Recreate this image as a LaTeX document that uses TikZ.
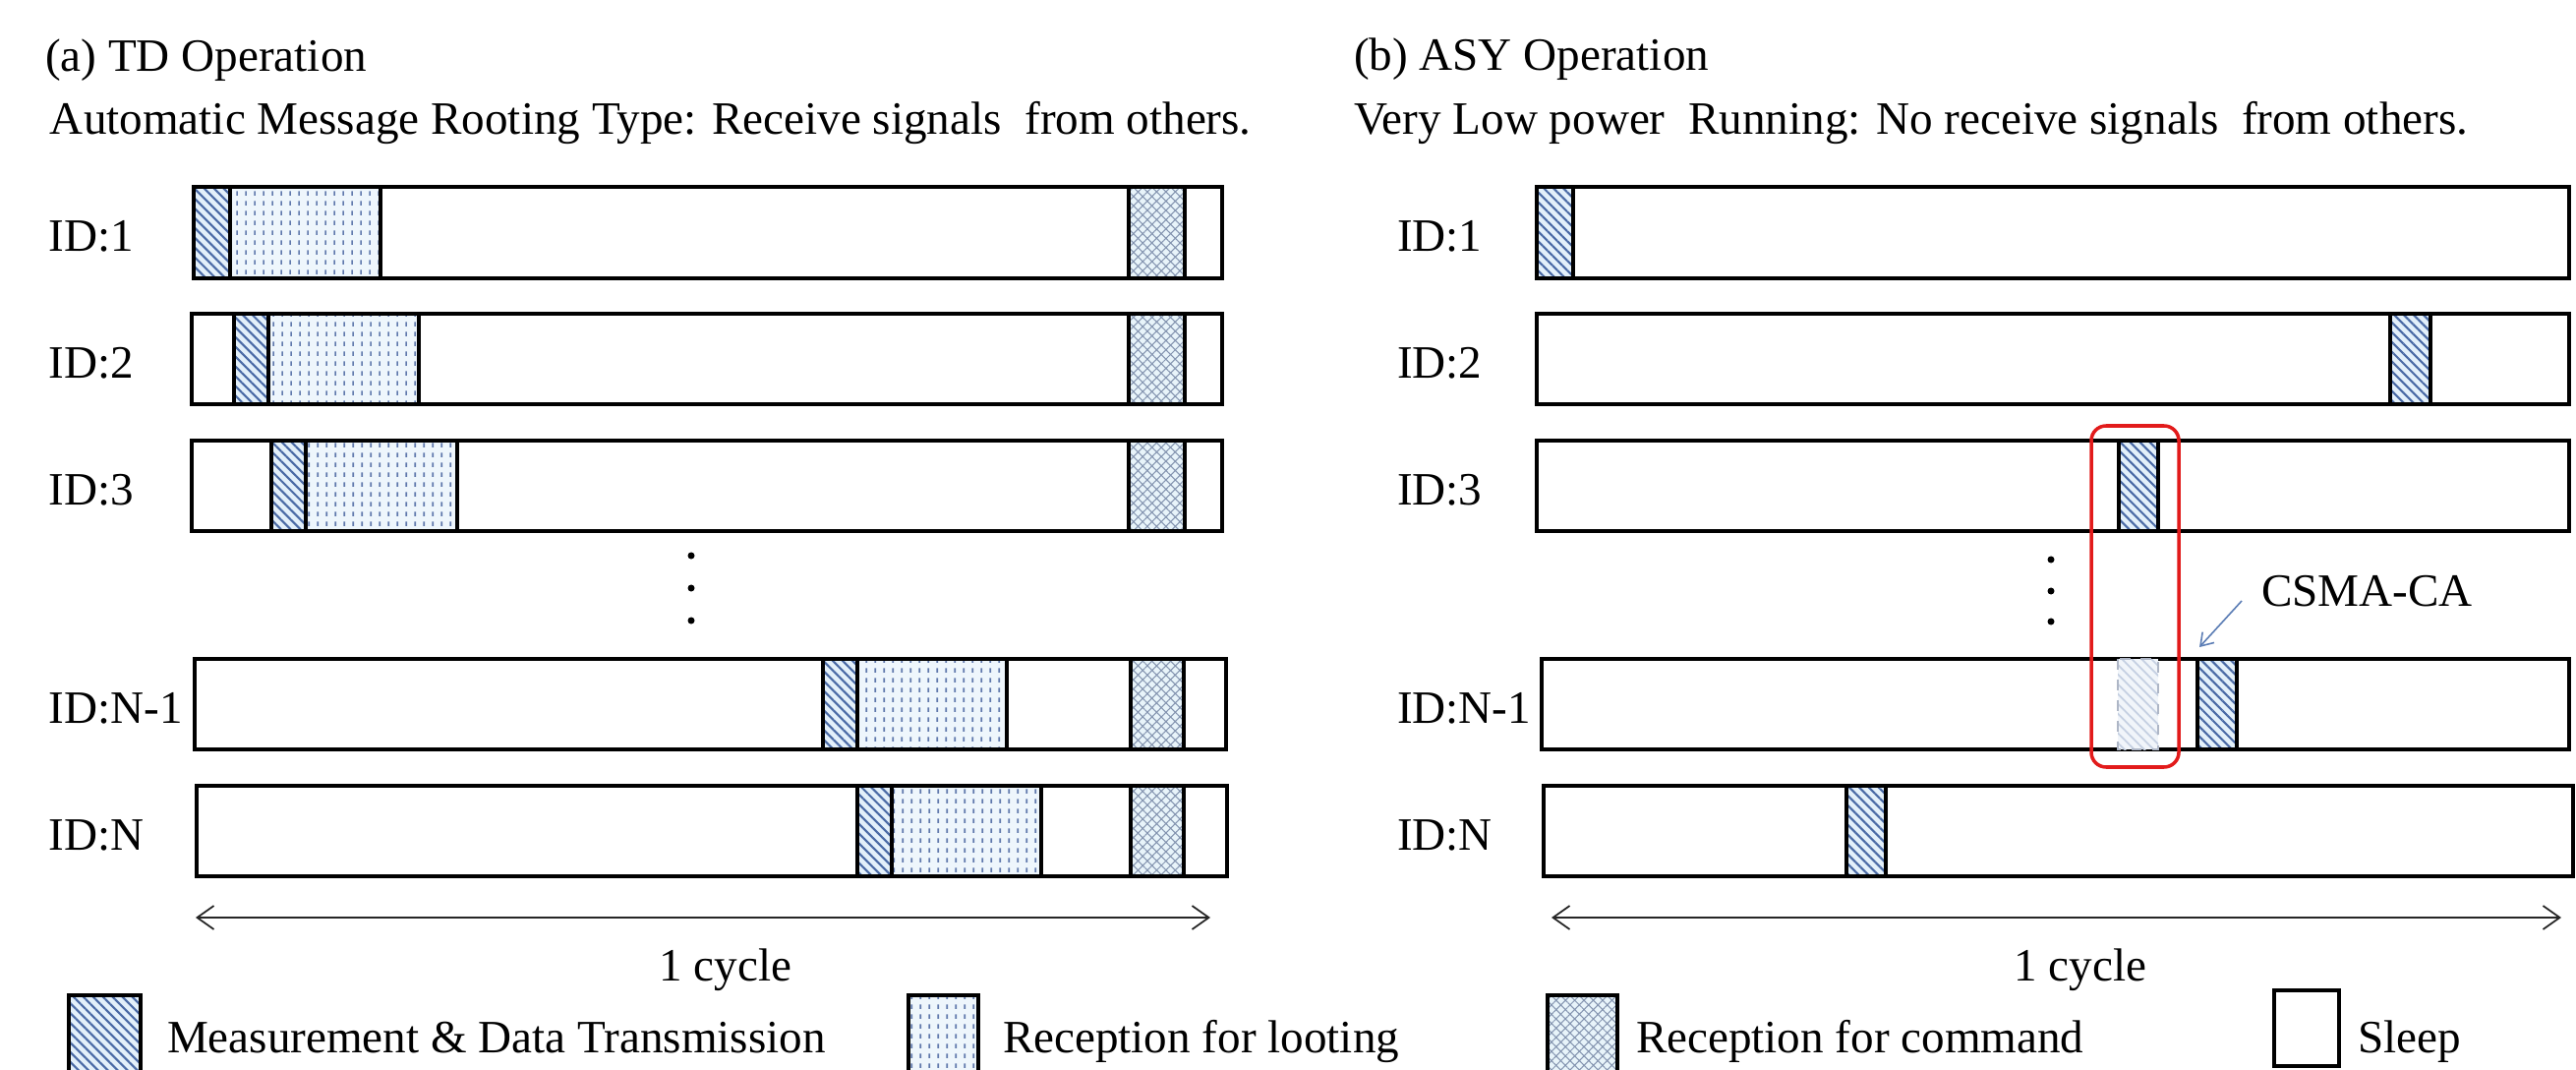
\documentclass[tikz,border=0pt]{standalone}
\usepackage{fontspec}
\setmainfont{Liberation Serif}
\usetikzlibrary{patterns.meta,arrows.meta}

\pgfdeclarepattern{
  name=VDash,
  type=uncolored,
  bottom left={\pgfpoint{0pt}{0pt}},
  top right={\pgfpoint{2.6pt}{2.7pt}},
  tile size={\pgfpoint{2.6pt}{2.7pt}},
  code={
    \pgfsetlinewidth{0.5pt}
    \pgfpathmoveto{\pgfpoint{1.3pt}{0.6pt}}
    \pgfpathlineto{\pgfpoint{1.3pt}{2.0pt}}
    \pgfusepath{stroke}
  }
}

\definecolor{hblue}{HTML}{4A6AA5}
\definecolor{hbg}{HTML}{E3F0FA}
\definecolor{dblue}{HTML}{5F78AC}
\definecolor{dbg}{HTML}{EEF6FC}
\definecolor{cgray}{HTML}{8494B0}
\definecolor{cbg}{HTML}{E8F4FA}
\definecolor{fadeline}{HTML}{C5D0E2}
\definecolor{fadebg}{HTML}{F1F5FA}
\definecolor{fadeedge}{HTML}{AEB6C6}
\definecolor{redbox}{HTML}{E21B1B}
\definecolor{arrblue}{HTML}{5B7DB5}

\begin{document}
\begin{tikzpicture}[x=0.01cm,y=-0.01cm,
  every node/.style={font=\fontsize{13.4pt}{16pt}\selectfont, inner sep=0pt, outer sep=0pt},
  bar/.style={draw=black, line width=1pt, fill=white},
  meas/.style={draw=black, line width=1pt, preaction={fill=hbg}, pattern={Lines[angle=-45,distance=2pt,line width=0.6pt]}, pattern color=hblue},
  loot/.style={draw=black, line width=1pt, preaction={fill=dbg}, pattern=VDash, pattern color=dblue},
  cmd/.style={draw=black, line width=1pt, preaction={fill=cbg}, pattern={Hatch[angle=45,distance=1.9pt,line width=0.3pt]}, pattern color=cgray},
  ghost/.style={draw=fadeedge, dashed, line width=0.6pt, preaction={fill=fadebg}, pattern={Lines[angle=-45,distance=2pt,line width=0.5pt]}, pattern color=fadeline},
  cyc/.style={draw=black!85, line width=0.5pt, {Straight Barb[length=0.17cm,width=0.24cm]}-{Straight Barb[length=0.17cm,width=0.24cm]}},
  lbl/.style={anchor=west},
  head/.style={anchor=base west},
]
\useasboundingbox (0,0) rectangle (2620,1088);
\clip (0,0) rectangle (2620,1088);
\fill[white] (0,0) rectangle (2620,1088);

% headings
\node[head] (ta) at (46,73) {(a) TD Operation};
\node[head] (tasub) at (51,137) {Automatic Message Rooting Type: Receive signals\ \ from others.};
\node[head] (tb) at (1377,72) {(b) ASY Operation};
\node[head] (tbsub) at (1377,137) {Very Low power\ \ Running: No receive signals\ \ from others.};

% ---------- panel (a) ----------
\node[lbl] (a1) at (50,240) {ID:1};
\node[lbl] (a2) at (50,369) {ID:2};
\node[lbl] (a3) at (50,498) {ID:3};
\node[lbl] (an1) at (50,720) {ID:N-1};
\node[lbl] (an) at (50,849) {ID:N};

\draw[bar] (197,190) rectangle (1243,283);
\draw[meas] (197,190) rectangle (234,283);
\draw[loot] (234,190) rectangle (387,283);
\draw[cmd] (1148,190) rectangle (1205,283);

\draw[bar] (195,319) rectangle (1243,411);
\draw[meas] (238,319) rectangle (273,411);
\draw[loot] (273,319) rectangle (426,411);
\draw[cmd] (1148,319) rectangle (1205,411);

\draw[bar] (195,448) rectangle (1243,540);
\draw[meas] (276,448) rectangle (311,540);
\draw[loot] (311,448) rectangle (465,540);
\draw[cmd] (1148,448) rectangle (1205,540);

\draw[bar] (198,670) rectangle (1247,762);
\draw[meas] (837,670) rectangle (872,762);
\draw[loot] (872,670) rectangle (1024,762);
\draw[cmd] (1150,670) rectangle (1204,762);

\draw[bar] (200,799) rectangle (1248,891);
\draw[meas] (872,799) rectangle (907,891);
\draw[loot] (907,799) rectangle (1059,891);
\draw[cmd] (1150,799) rectangle (1204,891);

\fill (703,565) circle[radius=0.035cm];
\fill (703,598) circle[radius=0.035cm];
\fill (703,631) circle[radius=0.035cm];

\coordinate (ca1) at (199,933);
\coordinate (ca2) at (1231,933);
\draw[cyc] (ca1) -- (ca2);
\node[anchor=base] (cyca) at (738,997) {1 cycle};

% ---------- panel (b) ----------
\node[lbl] (b1) at (1421,240) {ID:1};
\node[lbl] (b2) at (1421,369) {ID:2};
\node[lbl] (b3) at (1421,498) {ID:3};
\node[lbl] (bn1) at (1421,720) {ID:N-1};
\node[lbl] (bn) at (1421,849) {ID:N};

\draw[bar] (1563,190) rectangle (2613,283);
\draw[meas] (1563,190) rectangle (1600,283);

\draw[bar] (1563,319) rectangle (2613,411);
\draw[meas] (2431,319) rectangle (2472,411);

\draw[bar] (1563,448) rectangle (2613,540);
\draw[meas] (2155,448) rectangle (2195,540);

\draw[bar] (1568,670) rectangle (2613,762);
\draw[ghost] (2154,670) rectangle (2195,762);
\draw[meas] (2235,670) rectangle (2275,762);

\draw[bar] (1570,799) rectangle (2617,891);
\draw[meas] (1878,799) rectangle (1918,891);

\fill (2086,569) circle[radius=0.035cm];
\fill (2086,601) circle[radius=0.035cm];
\fill (2086,632) circle[radius=0.035cm];

\draw[redbox, line width=1pt, rounded corners=0.15cm] (2127,433) rectangle (2216,780);

\node[head] (csma) at (2300,616) {CSMA-CA};
\coordinate (csmatail) at (2280,611);
\coordinate (csmatip) at (2237,658);
\draw[arrblue, line width=0.45pt, -{Straight Barb[length=0.12cm,width=0.16cm]}] (csmatail) -- (csmatip);

\coordinate (cb1) at (1578,933);
\coordinate (cb2) at (2605,933);
\draw[cyc] (cb1) -- (cb2);
\node[anchor=base] (cycb) at (2116,997) {1 cycle};

% ---------- legend ----------
\draw[meas] (70,1012) rectangle (143,1110);
\node[head] (l1) at (170,1070) {Measurement \& Data Transmission};
\draw[loot] (924,1012) rectangle (995,1110);
\node[head] (l2) at (1020,1070) {Reception for looting};
\draw[cmd] (1574,1012) rectangle (1645,1110);
\node[head] (l3) at (1664,1070) {Reception for command};
\draw[bar] (2313,1007) rectangle (2379,1084);
\node[head] (l4) at (2398,1070) {Sleep};
\end{tikzpicture}
\end{document}
